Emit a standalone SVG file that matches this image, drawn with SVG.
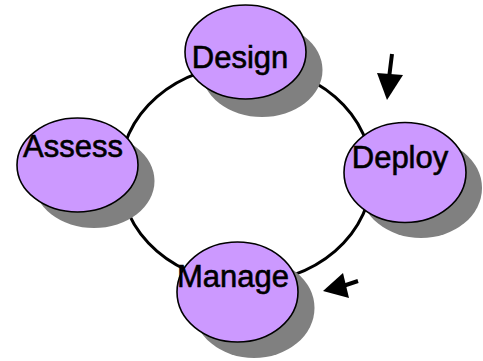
<svg xmlns="http://www.w3.org/2000/svg" width="483" height="361" viewBox="0 0 483 361">
<style>
.sh{fill:#808080;stroke:none}
.nd{fill:#cc99ff;stroke:#000;stroke-width:1.6}
.lb{font-family:"Liberation Sans",Arial,sans-serif;font-size:31px;fill:#000;stroke:#000;stroke-width:0.6;text-anchor:middle}
.cyc{fill:none;stroke:#000;stroke-width:3}
.ar{stroke:#000;stroke-width:4;fill:none}
.ah{fill:#000;stroke:none}
</style>
<g id="connectors">
<ellipse class="cyc" cx="246" cy="174" rx="126" ry="109"/>
<line class="ar" x1="392" y1="54" x2="389" y2="78"/>
<polygon class="ah" points="377,73 403,75 387,100"/>
<line class="ar" x1="358" y1="281" x2="340" y2="287"/>
<polygon class="ah" points="343,273 349,298 323,291"/>
</g>
<g id="design">
<ellipse class="sh" cx="262" cy="70" rx="60.5" ry="47"/>
<ellipse class="nd" cx="245.5" cy="52" rx="60.5" ry="47"/>
<text class="lb" x="240" y="68">Design</text>
</g>
<g id="deploy">
<ellipse class="sh" cx="421" cy="188" rx="61" ry="50"/>
<ellipse class="nd" cx="405" cy="172.5" rx="61" ry="50"/>
<text class="lb" x="400" y="168">Deploy</text>
</g>
<g id="assess">
<ellipse class="sh" cx="94" cy="181" rx="60.5" ry="47"/>
<ellipse class="nd" cx="77.5" cy="165" rx="60.5" ry="47"/>
<text class="lb" x="73" y="157">Assess</text>
</g>
<g id="manage">
<ellipse class="sh" cx="254" cy="308" rx="60.5" ry="50"/>
<ellipse class="nd" cx="237.5" cy="292" rx="60.5" ry="50"/>
<text class="lb" x="233" y="287">Manage</text>
</g>
</svg>
